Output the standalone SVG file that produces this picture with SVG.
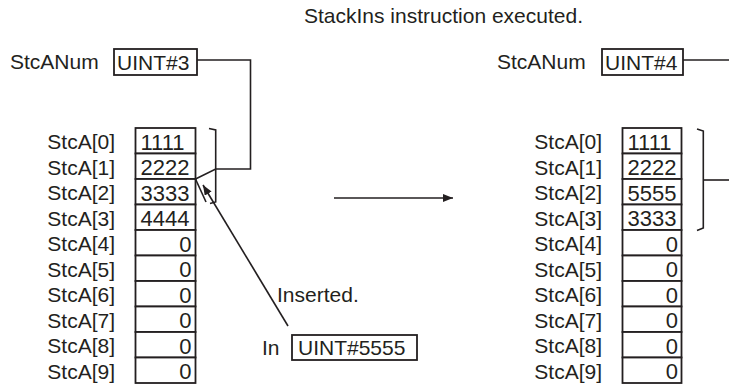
<svg xmlns="http://www.w3.org/2000/svg" width="729" height="387" viewBox="0 0 729 387">
<defs>
<style>
text{font-family:"Liberation Sans",Arial,sans-serif;font-size:21px;fill:#231f20}
.lbl{text-anchor:end}
.v{font-size:22px}
.z{text-anchor:end;font-size:22px}
.box{fill:#fff;stroke:#231f20;stroke-width:1.8}
.ln{fill:none;stroke:#231f20;stroke-width:1.6}
</style>
<marker id="ah" viewBox="0 0 10 8" refX="10" refY="4" markerWidth="10" markerHeight="8" markerUnits="userSpaceOnUse" orient="auto">
<path d="M0,0 L10,4 L0,8 Z" fill="#231f20"/>
</marker>
</defs>
<rect width="729" height="387" fill="#fff"/>

<text x="304" y="23">StackIns instruction executed.</text>

<g id="left-num">
<text x="10" y="69">StcANum</text>
<rect class="box" x="114" y="49" width="83" height="26"/>
<text x="117" y="69.5">UINT#3</text>
</g>

<g id="left-array">
<rect class="box" x="135.5" y="128" width="60" height="25.5"/>
<rect class="box" x="135.5" y="153.5" width="60" height="25.5"/>
<rect class="box" x="135.5" y="179" width="60" height="25.5"/>
<rect class="box" x="135.5" y="204.5" width="60" height="25.5"/>
<rect class="box" x="135.5" y="230" width="60" height="25.5"/>
<rect class="box" x="135.5" y="255.5" width="60" height="25.5"/>
<rect class="box" x="135.5" y="281" width="60" height="25.5"/>
<rect class="box" x="135.5" y="306.5" width="60" height="25.5"/>
<rect class="box" x="135.5" y="332" width="60" height="25.5"/>
<rect class="box" x="135.5" y="357.5" width="60" height="25.5"/>
<text class="lbl" x="115" y="149">StcA[0]</text>
<text class="lbl" x="115" y="174.5">StcA[1]</text>
<text class="lbl" x="115" y="200">StcA[2]</text>
<text class="lbl" x="115" y="225.5">StcA[3]</text>
<text class="lbl" x="115" y="251">StcA[4]</text>
<text class="lbl" x="115" y="276.5">StcA[5]</text>
<text class="lbl" x="115" y="302">StcA[6]</text>
<text class="lbl" x="115" y="327.5">StcA[7]</text>
<text class="lbl" x="115" y="353">StcA[8]</text>
<text class="lbl" x="115" y="378.5">StcA[9]</text>
<text class="v" x="140.5" y="149.5">1111</text>
<text class="v" x="140.5" y="175">2222</text>
<text class="v" x="140.5" y="200.5">3333</text>
<text class="v" x="140.5" y="226">4444</text>
<text class="z" x="191.5" y="251.5">0</text>
<text class="z" x="191.5" y="277">0</text>
<text class="z" x="191.5" y="302.5">0</text>
<text class="z" x="191.5" y="328">0</text>
<text class="z" x="191.5" y="353.5">0</text>
<text class="z" x="191.5" y="379">0</text>
</g>

<g id="in-node">
<text x="277" y="302">Inserted.</text>
<text x="262" y="355">In</text>
<rect class="box" x="292" y="335" width="125" height="25"/>
<text x="298" y="355">UINT#5555</text>
</g>

<g id="right-num">
<text x="497" y="69">StcANum</text>
<rect class="box" x="602" y="49" width="81" height="26"/>
<text x="605" y="69.5">UINT#4</text>
</g>

<g id="right-array">
<rect class="box" x="622.5" y="128" width="59" height="25.5"/>
<rect class="box" x="622.5" y="153.5" width="59" height="25.5"/>
<rect class="box" x="622.5" y="179" width="59" height="25.5"/>
<rect class="box" x="622.5" y="204.5" width="59" height="25.5"/>
<rect class="box" x="622.5" y="230" width="59" height="25.5"/>
<rect class="box" x="622.5" y="255.5" width="59" height="25.5"/>
<rect class="box" x="622.5" y="281" width="59" height="25.5"/>
<rect class="box" x="622.5" y="306.5" width="59" height="25.5"/>
<rect class="box" x="622.5" y="332" width="59" height="25.5"/>
<rect class="box" x="622.5" y="357.5" width="59" height="25.5"/>
<text class="lbl" x="602" y="149">StcA[0]</text>
<text class="lbl" x="602" y="174.5">StcA[1]</text>
<text class="lbl" x="602" y="200">StcA[2]</text>
<text class="lbl" x="602" y="225.5">StcA[3]</text>
<text class="lbl" x="602" y="251">StcA[4]</text>
<text class="lbl" x="602" y="276.5">StcA[5]</text>
<text class="lbl" x="602" y="302">StcA[6]</text>
<text class="lbl" x="602" y="327.5">StcA[7]</text>
<text class="lbl" x="602" y="353">StcA[8]</text>
<text class="lbl" x="602" y="378.5">StcA[9]</text>
<text class="v" x="627.5" y="149.5">1111</text>
<text class="v" x="627.5" y="175">2222</text>
<text class="v" x="627.5" y="200.5">5555</text>
<text class="v" x="627.5" y="226">3333</text>
<text class="z" x="678" y="251.5">0</text>
<text class="z" x="678" y="277">0</text>
<text class="z" x="678" y="302.5">0</text>
<text class="z" x="678" y="328">0</text>
<text class="z" x="678" y="353.5">0</text>
<text class="z" x="678" y="379">0</text>
</g>

<g id="connectors">
<polyline class="ln" points="197,60 250.5,60 250.5,169 215.7,169 195.5,179"/>
<polyline class="ln" points="209,128.5 215.7,130 215.7,202 210,203.5"/>
<line class="ln" x1="195.5" y1="179" x2="206" y2="202"/>
<line class="ln" x1="288" y1="326" x2="203" y2="185" marker-end="url(#ah)"/>
<line class="ln" x1="334" y1="198" x2="453" y2="198" marker-end="url(#ah)"/>
<polyline class="ln" points="683,60 729,60"/>
<polyline class="ln" points="697,129 703.3,131 703.3,228 697,230.5"/>
<line class="ln" x1="703.3" y1="180" x2="729" y2="180"/>
</g>
</svg>
